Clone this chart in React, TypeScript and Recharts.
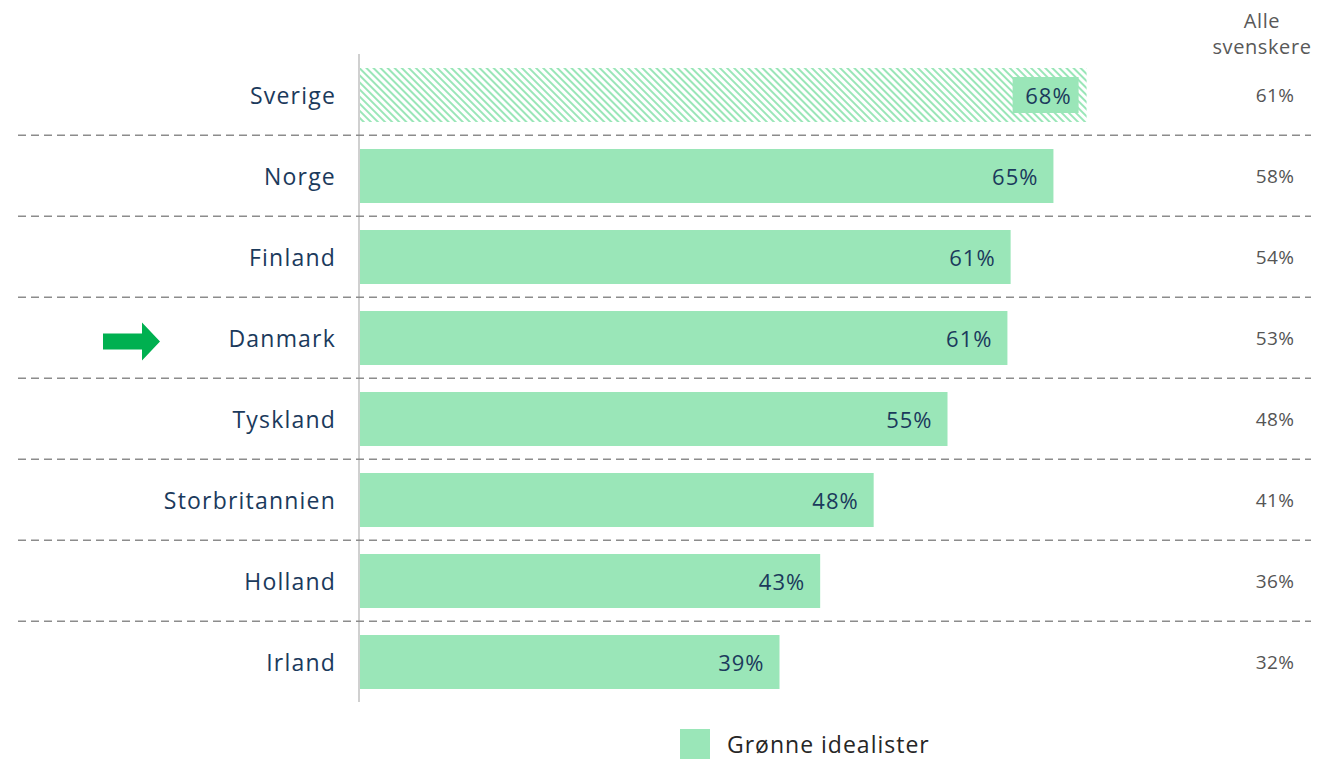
import React from "react";
import {
  BarChart,
  Bar,
  XAxis,
  YAxis,
  Legend,
  LabelList,
  Cell,
} from "recharts";

// values
const countries = [
  "Sverige",
  "Norge",
  "Finland",
  "Danmark",
  "Tyskland",
  "Storbritannien",
  "Holland",
  "Irland",
];
const idealistValues = [68.0, 64.9, 60.9, 60.6, 55.0, 48.1, 43.1, 39.3];
const idealistLabels = ["68%", "65%", "61%", "61%", "55%", "48%", "43%", "39%"];
const allSwedesLabels = ["61%", "58%", "54%", "53%", "48%", "41%", "36%", "32%"];

const data = countries.map((country, i) => ({
  country,
  value: idealistValues[i],
  label: idealistLabels[i],
  all: allSwedesLabels[i],
}));

const GREEN = "#9AE6B8";
const NAVY = "#1B3A5C";
const FONT = "'Open Sans', sans-serif";

const W = 1311;
const H = 753;
const MARGIN_TOP = 46;
const PLOT_H = 650;
const BAND = PLOT_H / countries.length;

function CountryTick(props: any) {
  const { x, y, payload, index } = props;
  return (
    <g>
      <text
        x={x}
        y={y}
        textAnchor="end"
        dominantBaseline="central"
        fill={NAVY}
        fontSize={23}
        letterSpacing={1.2}
        fontFamily={FONT}
      >
        {payload.value}
      </text>
      {index < countries.length - 1 && (
        <line
          x1={10}
          x2={W}
          y1={y + BAND / 2}
          y2={y + BAND / 2}
          stroke="#8c8c8c"
          strokeWidth={1.5}
          strokeDasharray="8 5"
        />
      )}
      {payload.value === "Danmark" && (
        <path
          d={`M95 ${y - 4} h39 v-11 l18 19 l-18 19 v-11 h-39 z`}
          fill="#00B050"
        />
      )}
    </g>
  );
}

function AllTick(props: any) {
  const { x, y, index } = props;
  return (
    <text
      x={x}
      y={y}
      textAnchor="middle"
      dominantBaseline="central"
      fill="#555"
      fontSize={19}
      letterSpacing={0.3}
      fontFamily={FONT}
    >
      {allSwedesLabels[index]}
    </text>
  );
}

function BarLabel(props: any) {
  const { x, y, width, height, value, index } = props;
  const right = x + width;
  const cy = y + height / 2;
  return (
    <g>
      {index === 0 && (
        <rect x={right - 74} y={y + 9} width={66} height={height - 18} fill={GREEN} />
      )}
      <text
        x={right - 15}
        y={cy}
        textAnchor="end"
        dominantBaseline="central"
        fill={NAVY}
        fontSize={22}
        letterSpacing={1}
        fontFamily={FONT}
      >
        {value}
      </text>
    </g>
  );
}

function LegendBox() {
  return (
    <div style={{ display: "flex", alignItems: "center", fontFamily: FONT }}>
      <div style={{ width: 30, height: 30, background: GREEN }} />
      <span
        style={{ marginLeft: 17, fontSize: 23, letterSpacing: 1, color: "#262626" }}
      >
        Grønne idealister
      </span>
    </div>
  );
}

export default function App() {
  return (
    <div style={{ position: "relative", width: W, height: H }}>
      <div
        style={{
          position: "absolute",
          left: 1254 - 70,
          top: 0,
          width: 140,
          textAlign: "center",
          whiteSpace: "nowrap",
          fontFamily: FONT,
          fontSize: 20,
          letterSpacing: 0.6,
          lineHeight: "26px",
          color: "#595959",
        }}
      >
        <div>Alle</div>
        <div>svenskere</div>
      </div>
      <BarChart
        layout="vertical"
        width={W}
        height={H}
        data={data}
        margin={{ top: MARGIN_TOP, right: 0, left: 0, bottom: H - MARGIN_TOP - PLOT_H - 30 }}
      >
        <defs>
          <pattern
            id="hatch"
            width={5}
            height={5}
            patternUnits="userSpaceOnUse"
            patternTransform="rotate(-45)"
          >
            <rect width={5} height={5} fill="#fff" />
            <line x1={1} y1={0} x2={1} y2={5} stroke={GREEN} strokeWidth={2} />
          </pattern>
        </defs>
        <XAxis type="number" domain={[0, 80]} hide />
        <YAxis
          yAxisId="left"
          type="category"
          dataKey="country"
          width={351}
          tickSize={0}
          tickMargin={23}
          tickLine={false}
          axisLine={{ stroke: "#d0d0d0", strokeWidth: 2 }}
          tick={<CountryTick />}
          interval={0}
        />
        <YAxis
          yAxisId="right"
          orientation="right"
          type="category"
          dataKey="country"
          width={104}
          tickSize={0}
          tickMargin={60}
          tickLine={false}
          axisLine={false}
          tick={<AllTick />}
          interval={0}
        />
        <Legend
          verticalAlign="bottom"
          content={<LegendBox />}
          wrapperStyle={{ left: 672, bottom: 1, width: "auto" }}
        />
        <Bar yAxisId="left" dataKey="value" barSize={54} isAnimationActive={false}>
          {data.map((d, i) => (
            <Cell key={d.country} fill={i === 0 ? "url(#hatch)" : GREEN} />
          ))}
          <LabelList dataKey="label" content={<BarLabel />} />
        </Bar>
      </BarChart>
    </div>
  );
}
